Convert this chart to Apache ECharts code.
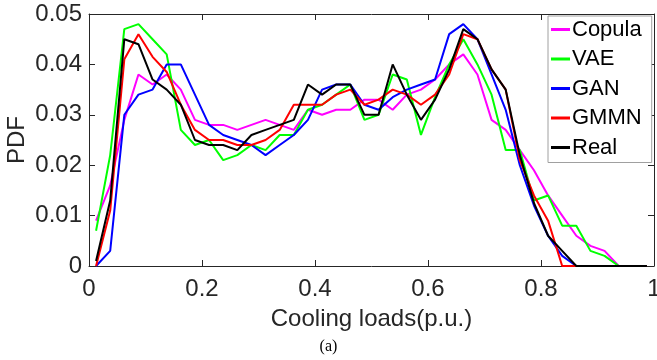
<!DOCTYPE html>
<html>
<head>
<meta charset="utf-8">
<script src="https://cdn.jsdelivr.net/npm/echarts@6/dist/echarts.min.js"></script>
<style>
  html, body { margin: 0; padding: 0; background: #fff; }
  #chart { width: 657px; height: 360px; }
</style>
</head>
<body>
<div id="chart"></div>
<script>
// bin centres of the cooling-load histogram (p.u.)
const binCenters = [
  0.0125, 0.0375, 0.0625, 0.0875, 0.1125, 0.1375, 0.1625, 0.1875, 0.2125, 0.2375,
  0.2625, 0.2875, 0.3125, 0.3375, 0.3625, 0.3875, 0.4125, 0.4375, 0.4625, 0.4875,
  0.5125, 0.5375, 0.5625, 0.5875, 0.6125, 0.6375, 0.6625, 0.6875, 0.7125, 0.7375,
  0.7625, 0.7875, 0.8125, 0.8375, 0.8625, 0.8875, 0.9125, 0.9375, 0.9625, 0.9875
];

const copula = [
  0.009, 0.016, 0.029, 0.038, 0.036, 0.038, 0.035, 0.029, 0.028, 0.028,
  0.027, 0.028, 0.029, 0.028, 0.027, 0.031, 0.030, 0.031, 0.031, 0.033,
  0.033, 0.031, 0.034, 0.035, 0.037, 0.040, 0.042, 0.038, 0.029, 0.027,
  0.023, 0.019, 0.014, 0.010, 0.006, 0.004, 0.003, 0, 0, 0
];
const vae = [
  0.007, 0.022, 0.047, 0.048, 0.045, 0.042, 0.027, 0.024, 0.025, 0.021,
  0.022, 0.024, 0.023, 0.026, 0.026, 0.031, 0.032, 0.034, 0.036, 0.029,
  0.030, 0.038, 0.037, 0.026, 0.0335, 0.040, 0.045, 0.040, 0.034, 0.023,
  0.023, 0.013, 0.014, 0.008, 0.008, 0.003, 0.002, 0, 0, 0
];
const gan = [
  0, 0.003, 0.030, 0.034, 0.035, 0.040, 0.040, 0.034, 0.028, 0.026,
  0.025, 0.024, 0.022, 0.024, 0.026, 0.029, 0.035, 0.036, 0.036, 0.032,
  0.031, 0.0335, 0.035, 0.036, 0.037, 0.046, 0.048, 0.045, 0.038, 0.031,
  0.020, 0.012, 0.006, 0.002, 0, 0, 0, 0, 0, 0
];
const gmmn = [
  0, 0.011, 0.041, 0.046, 0.0415, 0.0385, 0.032, 0.027, 0.025, 0.025,
  0.024, 0.024, 0.025, 0.027, 0.032, 0.032, 0.032, 0.034, 0.035, 0.032,
  0.033, 0.035, 0.034, 0.032, 0.034, 0.038, 0.046, 0.045, 0.039, 0.035,
  0.021, 0.014, 0.009, 0, 0, 0, 0, 0, 0, 0
];
const real = [
  0.001, 0.013, 0.045, 0.044, 0.037, 0.035, 0.032, 0.025, 0.024, 0.024,
  0.023, 0.026, 0.027, 0.028, 0.029, 0.036, 0.034, 0.036, 0.036, 0.030,
  0.030, 0.040, 0.034, 0.029, 0.033, 0.039, 0.047, 0.045, 0.039, 0.035,
  0.022, 0.0125, 0.006, 0.003, 0, 0, 0, 0, 0, 0
];

const seriesNames = ['Copula', 'VAE', 'GAN', 'GMMN', 'Real'];
const seriesColors = ['#ff00ff', '#00ff00', '#0000ff', '#ff0000', '#000000'];
const seriesValues = [copula, vae, gan, gmmn, real];

const xTicks = [0, 0.2, 0.4, 0.6, 0.8, 1];
const yTicks = [0, 0.01, 0.02, 0.03, 0.04, 0.05];

const axisColor = '#262626';
const font = '"Liberation Sans", Arial, sans-serif';

const chart = echarts.init(document.getElementById('chart'), null, { renderer: 'canvas' });

const series = seriesNames.map((name, i) => ({
  name,
  type: 'line',
  xAxisIndex: 0,
  yAxisIndex: 0,
  symbol: 'none',
  lineStyle: { color: seriesColors[i], width: 2 },
  itemStyle: { color: seriesColors[i] },
  data: binCenters.map((x, k) => [x, seriesValues[i][k]])
}));

// plain axis parts shared by the box axes (MATLAB style: ticks inward on all four sides)
function boxAxis(extra) {
  return Object.assign({
    type: 'value',
    axisLine: { show: true, onZero: false, lineStyle: { color: axisColor, width: 1 } },
    axisTick: { show: true, inside: true, length: 6, lineStyle: { color: axisColor, width: 1 } },
    splitLine: { show: false }
  }, extra);
}

chart.setOption({
  animation: false,
  backgroundColor: '#fff',
  grid: { left: 89, right: 3, top: 14, bottom: 94, containLabel: false, outerBoundsMode: 'none' },
  legend: {
    orient: 'vertical',
    left: 548,
    top: 16,
    padding: [2.5, 10, 4, 3],
    itemGap: 7.5,
    itemWidth: 19,
    itemHeight: 3,
    icon: 'rect',
    backgroundColor: '#fff',
    borderColor: '#a0a0a0',
    borderWidth: 1,
    borderRadius: 0,
    textStyle: { fontFamily: font, fontSize: 22, color: '#000', padding: [0, 0, 0, -3] },
    data: seriesNames
  },
  xAxis: [
    boxAxis({
      position: 'bottom',
      min: 0, max: 1, interval: 0.2,
      name: 'Cooling loads(p.u.)',
      nameLocation: 'middle',
      nameGap: 41,
      nameMoveOverlap: false,
      nameTextStyle: { fontFamily: font, fontSize: 24, color: axisColor },
      axisLabel: {
        fontFamily: font, fontSize: 24, color: axisColor, margin: 11,
        formatter: v => String(xTicks.find(t => Math.abs(t - v) < 1e-9) ?? v)
      }
    }),
    boxAxis({
      position: 'top',
      min: 0, max: 1, interval: 0.2,
      axisLabel: { show: false }
    })
  ],
  yAxis: [
    boxAxis({
      position: 'left',
      min: 0, max: 0.05, interval: 0.01,
      name: 'PDF',
      nameLocation: 'middle',
      nameGap: 72,
      nameMoveOverlap: false,
      nameTextStyle: { fontFamily: font, fontSize: 24, color: axisColor, verticalAlign: 'middle' },
      axisLabel: {
        fontFamily: font, fontSize: 24, color: axisColor, margin: 7,
        formatter: v => String(yTicks.find(t => Math.abs(t - v) < 1e-9) ?? v)
      }
    }),
    boxAxis({
      position: 'right',
      min: 0, max: 0.05, interval: 0.01,
      axisLabel: { show: false }
    })
  ],
  graphic: [{
    type: 'text',
    left: 'center',
    top: 339,
    style: { text: '(a)', fontFamily: '"Liberation Serif", "Times New Roman", serif', fontSize: 16, fill: '#000' }
  }],
  series
});
</script>
</body>
</html>
